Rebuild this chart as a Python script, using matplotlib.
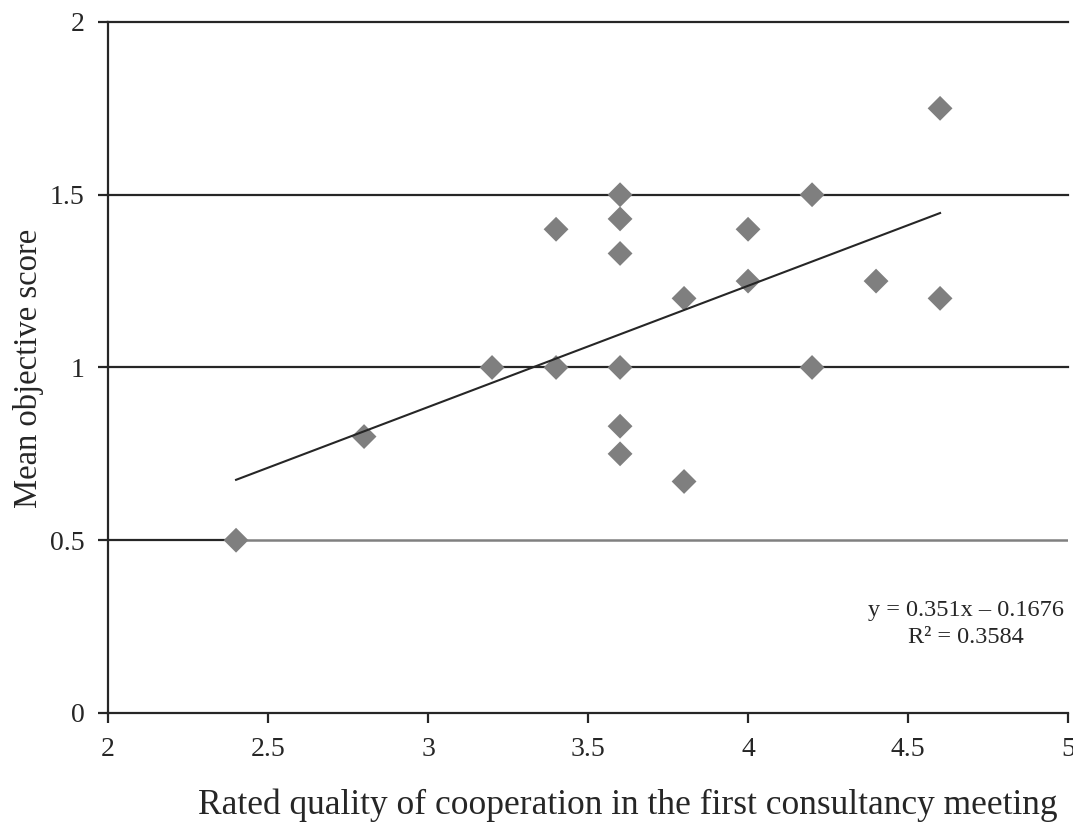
import numpy as np
from matplotlib import pyplot as plt

plt.rcParams['font.family'] = ['Liberation Serif', 'DejaVu Serif']

# data
quality = [2.4, 2.8, 3.2, 3.4, 3.4, 3.6, 3.6, 3.6, 3.6, 3.6, 3.6,
           3.8, 3.8, 4.0, 4.0, 4.2, 4.2, 4.4, 4.6, 4.6]
score = [0.5, 0.8, 1.0, 1.4, 1.0, 1.5, 1.43, 1.33, 1.0, 0.83, 0.75,
         1.2, 0.67, 1.4, 1.25, 1.5, 1.0, 1.25, 1.75, 1.2]
slope, intercept, r2 = 0.351, -0.1676, 0.3584
x_ticks = [2, 2.5, 3, 3.5, 4, 4.5, 5]
y_ticks = [0, 0.5, 1, 1.5, 2]

fig = plt.figure(figsize=(10.73, 8.23), dpi=100)
ax = fig.add_axes([0.1007, 0.1337, 0.8947, 0.8396])

dark = '#262626'
for yv in y_ticks[1:]:
    if yv == 0.5:
        # the 0.5 line turns grey past the first point in the original
        split = (min(quality) - 2) / 3
        ax.axhline(yv, xmax=split, c=dark, lw=1.6, zorder=1)
        ax.axhline(yv, xmin=split, c='#808080', lw=1.8, zorder=1)
    else:
        ax.axhline(yv, c=dark, lw=1.6, zorder=1, clip_on=False)

ax.scatter(quality, score, marker='D', s=160, c='#7f7f7f', edgecolors='none', zorder=3)

xs = np.array([min(quality), max(quality)])
ax.plot(xs, slope * xs + intercept, c=dark, lw=1.5, zorder=4)

ax.set_xlim(2, 5)
ax.set_ylim(0, 2)
ax.set_xticks(x_ticks)
ax.set_xticklabels(['%g' % v for v in x_ticks])
ax.set_yticks(y_ticks)
ax.set_yticklabels(['%g' % v for v in y_ticks])

for s in ['top', 'right']:
    ax.spines[s].set_visible(False)
for s in ['left', 'bottom']:
    ax.spines[s].set_color(dark)
    ax.spines[s].set_linewidth(1.6)
ax.tick_params(axis='both', direction='out', length=7, width=1.6, color=dark,
               labelsize=20, labelcolor=dark)
ax.tick_params(axis='x', pad=10)
ax.tick_params(axis='y', pad=10)

ax.set_xlabel('Rated quality of cooperation in the first consultancy meeting',
              fontsize=25.5, color=dark)
ax.set_ylabel('Mean objective score', fontsize=23.5, color=dark)
ax.xaxis.set_label_coords(0.5417, -0.109)
ax.yaxis.set_label_coords(-0.067, 0.499)

ax.text(4.681, 0.258, 'y = 0.351x \u2013 0.1676\nR\u00b2 = %.4f' % r2,
        ha='center', va='center', fontsize=17.5, color=dark, linespacing=1.35)

fig.savefig('out.png', dpi=100)
